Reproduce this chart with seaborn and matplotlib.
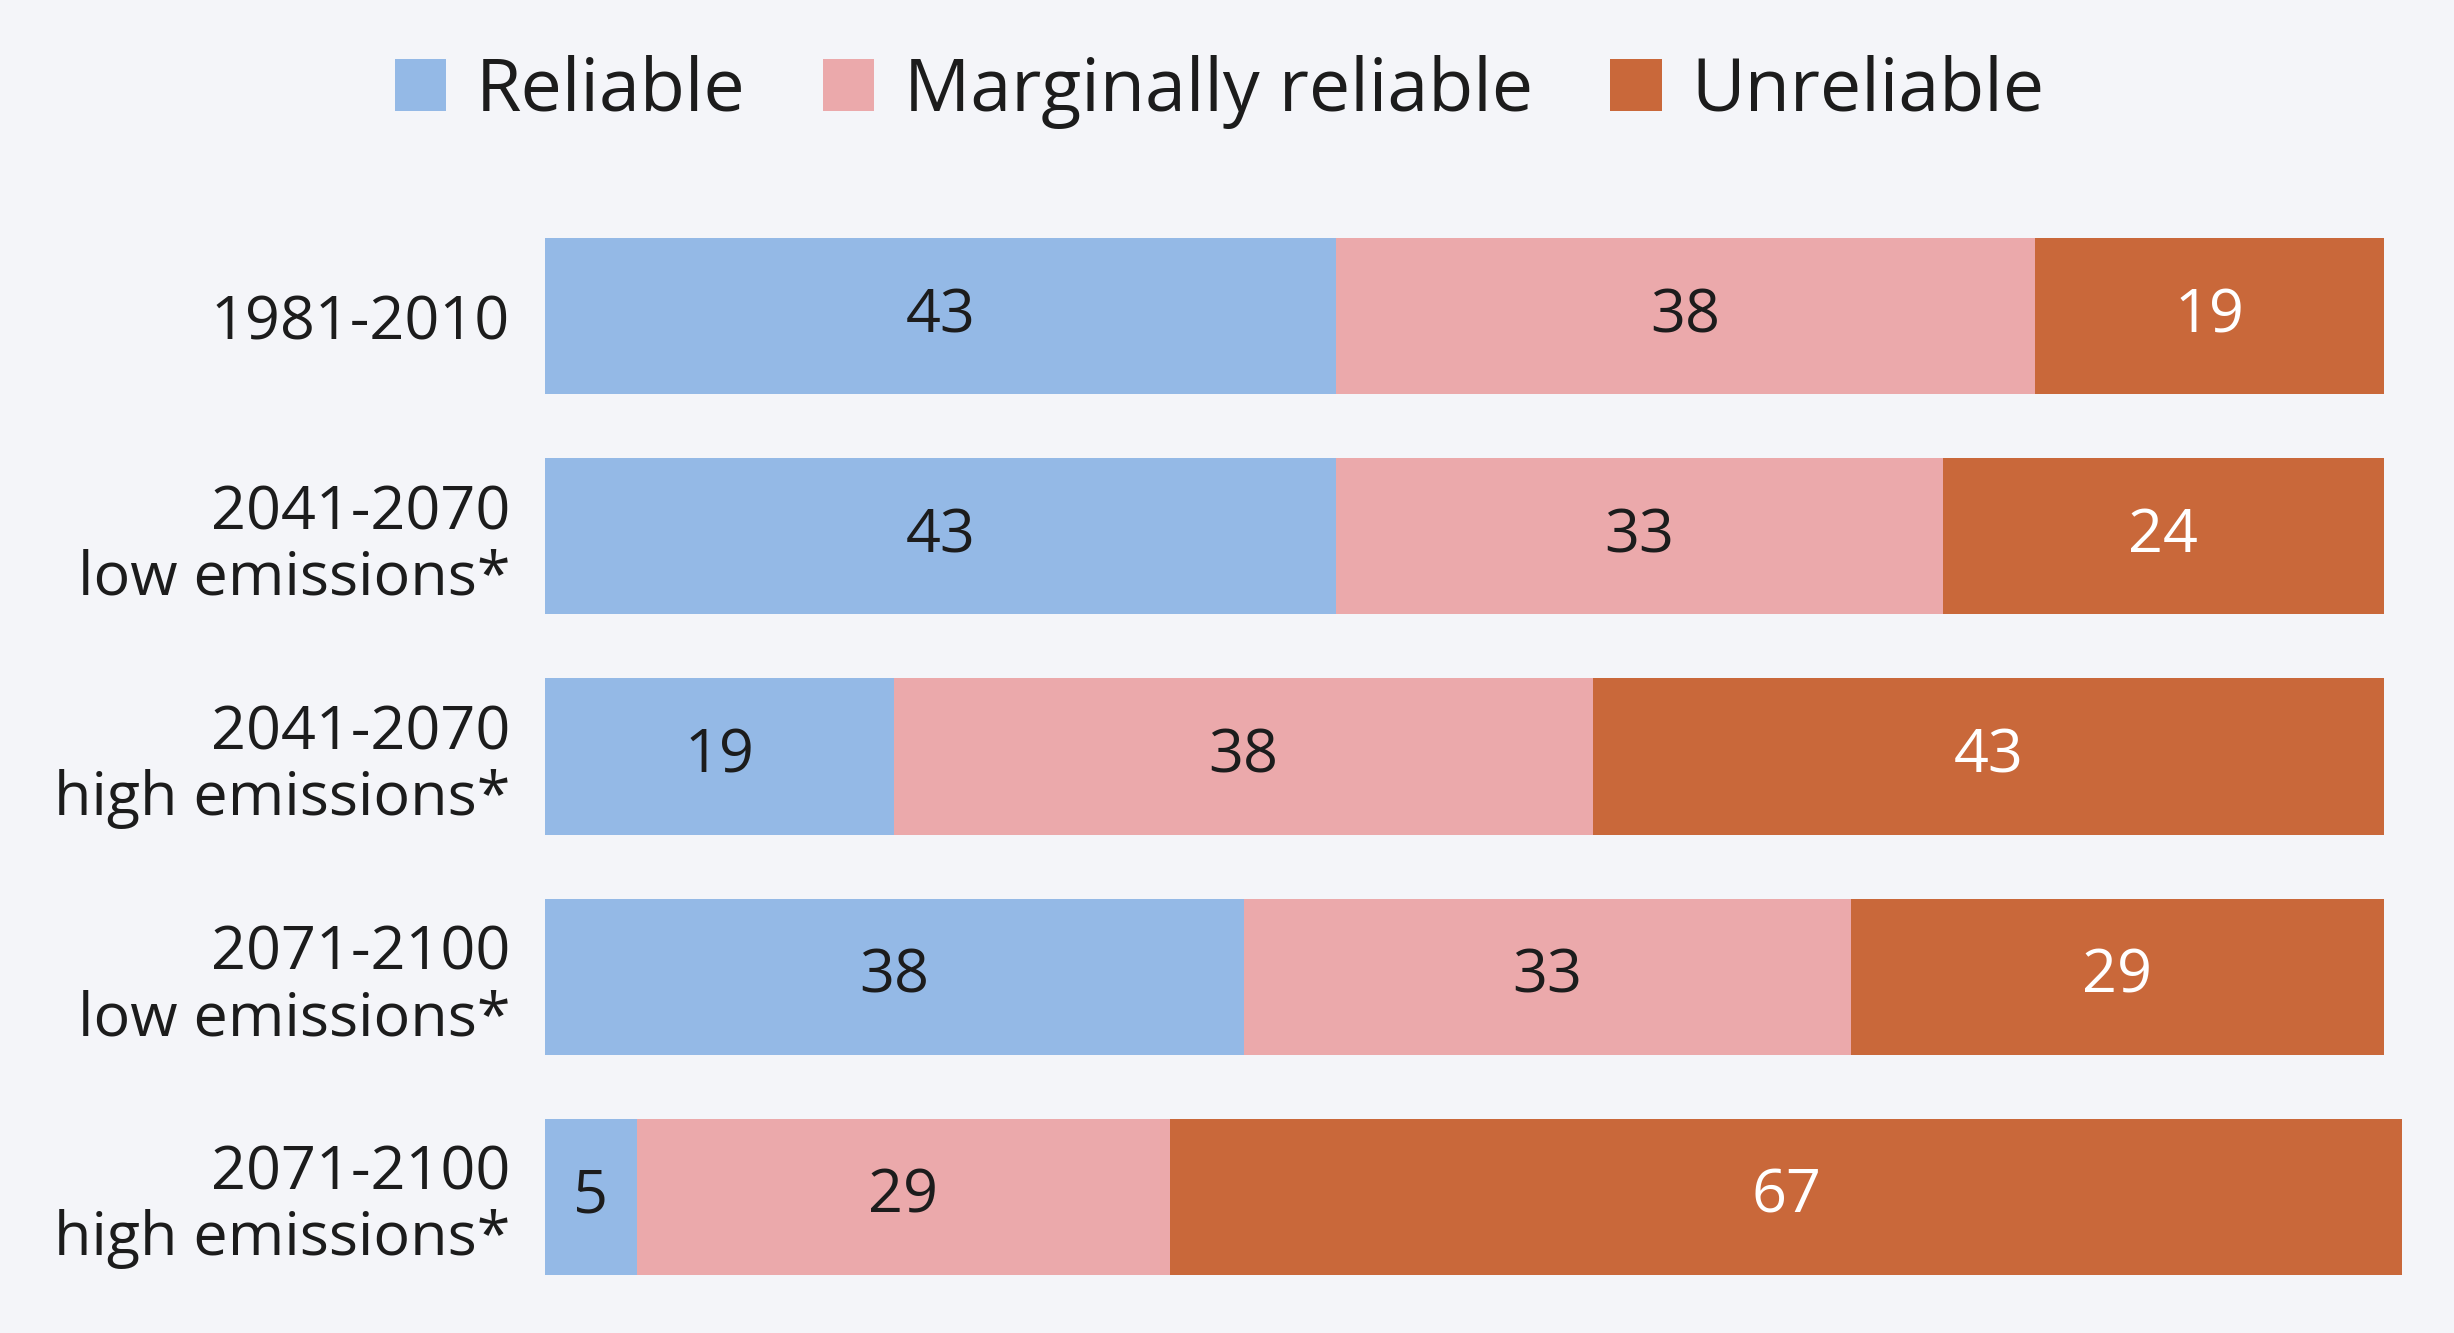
import numpy as np
import pandas as pd
import seaborn as sns
from matplotlib import pyplot as plt
from matplotlib.patches import Patch

periods = ['1981-2010', '2041-2070\nlow emissions*', '2041-2070\nhigh emissions*',
           '2071-2100\nlow emissions*', '2071-2100\nhigh emissions*']
reliable = [43, 43, 19, 38, 5]
marginal = [38, 33, 38, 33, 29]
unreliable = [19, 24, 43, 29, 67]

series_names = ['Reliable', 'Marginally reliable', 'Unreliable']
colors = ['#94b9e6', '#eba9ab', '#c9683a']
text_colors = ['#1c1c1c', '#1c1c1c', '#ffffff']
bg = '#f4f5f9'

data = pd.DataFrame({'period': periods, 'Reliable': reliable,
                     'Marginally reliable': marginal, 'Unreliable': unreliable})
data['c1'] = data['Reliable']
data['c2'] = data['c1'] + data['Marginally reliable']
data['c3'] = data['c2'] + data['Unreliable']

sns.set_theme(style='white')
plt.rcParams['font.family'] = ['Open Sans', 'DejaVu Sans']

fig = plt.figure(figsize=(24.54, 13.33), dpi=100, facecolor=bg)
ax = fig.add_axes([0.222, 0.0195, 0.757, 0.826])
ax.set_facecolor(bg)

# stacked bars: draw cumulative totals back to front
for col, c in zip(['c3', 'c2', 'c1'], colors[::-1]):
    sns.barplot(data=data, y='period', x=col, orient='h', color=c,
                width=0.71, saturation=1, ax=ax, linewidth=0)

ax.set_xlim(0, 101)
ax.set_ylim(4.5, -0.5)
ax.set_xlabel('')
ax.set_ylabel('')
ax.set_xticks([])
ax.tick_params(axis='y', length=0, pad=25, labelsize=44, labelcolor='#1c1c1c')
for lab in ax.get_yticklabels():
    lab.set_linespacing(1.12)
for s in ax.spines.values():
    s.set_visible(False)

# value labels
starts = [np.zeros(len(periods)), data['c1'].values, data['c2'].values]
for name, st, tc in zip(series_names, starts, text_colors):
    vals = data[name].values
    for i, v in enumerate(vals):
        ax.text(st[i] + v / 2, i, str(v), ha='center', va='center',
                fontsize=44, color=tc)

handles = [Patch(facecolor=c, edgecolor='none') for c in colors]
fig.legend(handles, series_names, loc='center', bbox_to_anchor=(0.497, 0.931),
           ncol=3, frameon=False, fontsize=53, handlelength=0.7, handleheight=0.7,
           handletextpad=0.4, columnspacing=1.05, labelcolor='#1c1c1c')

fig.savefig('out.png', dpi=100, facecolor=bg)
